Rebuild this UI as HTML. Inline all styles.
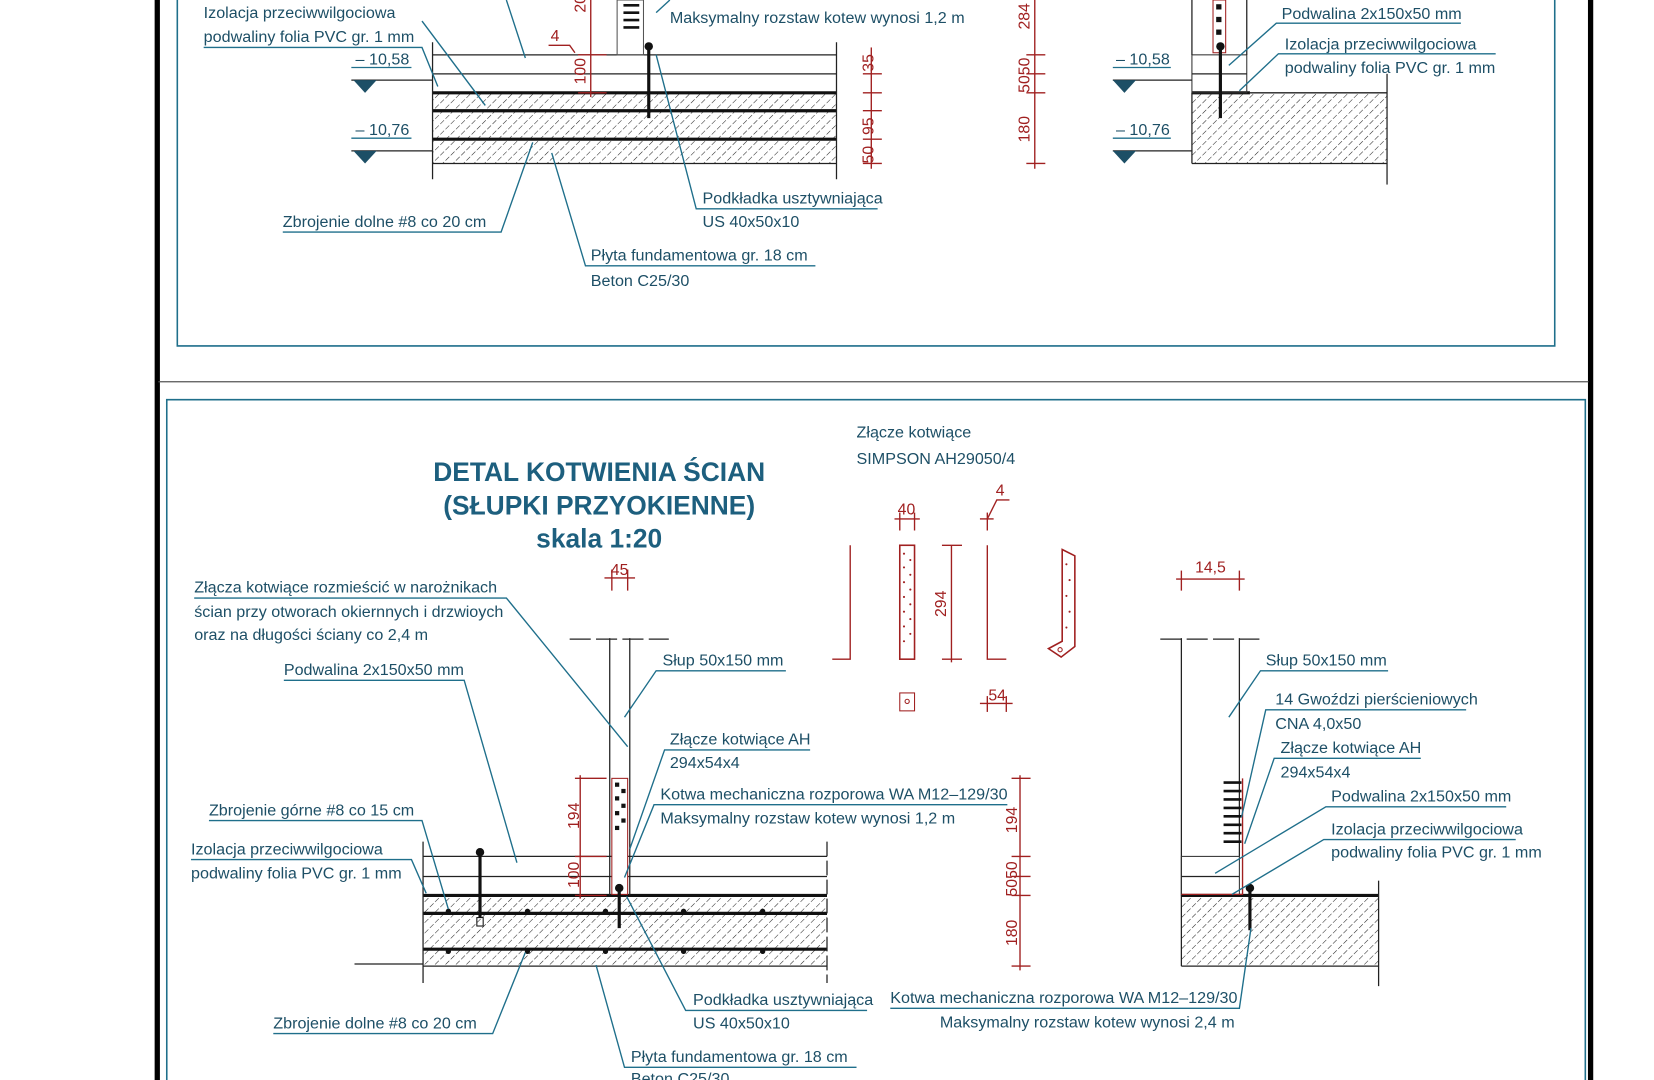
<!DOCTYPE html>
<html><head><meta charset="utf-8"><style>
html,body{margin:0;padding:0;background:#fff;}
svg{display:block;}
text{font-family:"Liberation Sans Narrow","Liberation Sans",sans-serif;font-size:15.3px;fill:#1d4f66;}
.t{font-family:"Liberation Sans",sans-serif;font-weight:bold;font-size:25px;fill:#1d5f7e;text-anchor:middle;}
.r{fill:#a02020;font-size:15px;}
.l{stroke:#1f6f8b;stroke-width:1.3;fill:none;}
.k{stroke:#222;stroke-width:1.2;fill:none;}
.kk{stroke:#111;stroke-width:3;fill:none;}
.rd{stroke:#a02020;stroke-width:1.3;fill:none;}
</style></head><body>
<svg width="1654" height="1080" viewBox="0 0 1568 1024" xmlns="http://www.w3.org/2000/svg">
<defs>
<pattern id="h" width="7" height="7" patternUnits="userSpaceOnUse" patternTransform="rotate(45)">
<line x1="0" y1="0" x2="0" y2="7" stroke="#222" stroke-width="1" stroke-dasharray="5 2"/></pattern>
</defs>
<!-- frame -->
<line x1="149" y1="0" x2="149" y2="1024" stroke="#000" stroke-width="5"/>
<line x1="1508" y1="0" x2="1508" y2="1024" stroke="#000" stroke-width="5"/>
<line x1="150" y1="362" x2="1506" y2="362" stroke="#555" stroke-width="1.2"/>
<polyline points="168,0 168,328 1474,328 1474,0" fill="none" stroke="#1f6f8b" stroke-width="1.5"/>
<polyline points="158,1024 158,379 1503,379 1503,1024" fill="none" stroke="#1f6f8b" stroke-width="1.5"/>

<!-- ===== TOP SECTION ===== -->
<rect x="410" y="88" width="383" height="67" fill="url(#h)"/>
<line class="k" x1="410" y1="52" x2="793" y2="52"/>
<line class="k" x1="410" y1="70" x2="793" y2="70"/>
<line class="kk" x1="410" y1="88" x2="793" y2="88"/>
<line class="kk" x1="410" y1="105" x2="793" y2="105"/>
<line class="kk" x1="410" y1="132" x2="793" y2="132"/>
<line class="k" x1="410" y1="155" x2="793" y2="155"/>
<line class="k" x1="410" y1="40" x2="410" y2="170"/>
<line class="k" x1="793" y1="40" x2="793" y2="170"/>
<rect x="585" y="0" width="25" height="52" fill="none" stroke="#555"/>
<line class="kk" x1="615" y1="42" x2="615" y2="112"/><circle cx="615" cy="44" r="4" fill="#111"/>
<g stroke="#111" stroke-width="2.5"><line x1="591" y1="5" x2="606" y2="5"/><line x1="591" y1="12" x2="606" y2="12"/><line x1="591" y1="19" x2="606" y2="19"/><line x1="591" y1="26" x2="606" y2="26"/></g>
<line class="rd" x1="560" y1="0" x2="560" y2="92"/><line class="rd" x1="548" y1="52" x2="575" y2="52"/><line class="rd" x1="548" y1="88" x2="575" y2="88"/>
<text class="r" transform="translate(555,80) rotate(-90)">100</text>
<text class="r" transform="translate(555,12) rotate(-90)">20</text>
<text class="r" x="522" y="39">4</text><polyline class="rd" points="520,43 540,43 545,50"/>
<polyline class="l" points="333,64 390,64"/><text x="337" y="61">– 10,58</text>
<line class="k" x1="333" y1="76" x2="410" y2="76"/><polygon points="335,76 357,76 346,88" fill="#1d4f66"/>
<polyline class="l" points="333,131 390,131"/><text x="337" y="128">– 10,76</text>
<line class="k" x1="333" y1="143" x2="410" y2="143"/><polygon points="335,143 357,143 346,155" fill="#1d4f66"/>
<text x="193" y="17">Izolacja przeciwwilgociowa</text>
<text x="193" y="40">podwaliny folia PVC gr. 1 mm</text>
<polyline class="l" points="193,45 400,45 415,82"/>
<line class="l" x1="400" y1="20" x2="460" y2="100"/>
<line class="l" x1="480" y1="0" x2="498" y2="55"/>
<text x="635" y="22">Maksymalny rozstaw kotew wynosi 1,2 m</text>
<line class="l" x1="635" y1="0" x2="622" y2="12"/>
<text x="666" y="193">Podkładka usztywniająca</text><text x="666" y="215">US 40x50x10</text>
<polyline class="l" points="832,198 660,198 622,52"/>
<text x="268" y="215">Zbrojenie dolne #8 co 20 cm</text>
<polyline class="l" points="268,220 475,220 505,135"/>
<text x="560" y="247">Płyta fundamentowa gr. 18 cm</text><text x="560" y="271">Beton C25/30</text>
<polyline class="l" points="773,252 555,252 523,145"/>
<line class="rd" x1="826" y1="45" x2="826" y2="160"/>
<g class="rd"><line x1="818" y1="70" x2="836" y2="70"/><line x1="818" y1="88" x2="836" y2="88"/><line x1="818" y1="105" x2="836" y2="105"/><line x1="818" y1="132" x2="836" y2="132"/><line x1="818" y1="155" x2="836" y2="155"/></g>
<text class="r" transform="translate(828,68) rotate(-90)">35</text>
<text class="r" transform="translate(828,128) rotate(-90)">95</text>
<text class="r" transform="translate(828,155) rotate(-90)">50</text>
<line class="rd" x1="981" y1="0" x2="981" y2="160"/>
<g class="rd"><line x1="973" y1="52" x2="991" y2="52"/><line x1="973" y1="70" x2="991" y2="70"/><line x1="973" y1="88" x2="991" y2="88"/><line x1="973" y1="155" x2="991" y2="155"/></g>
<text class="r" transform="translate(976,28) rotate(-90)">284</text>
<text class="r" transform="translate(976,88) rotate(-90)">5050</text>
<text class="r" transform="translate(976,135) rotate(-90)">180</text>
<rect x="1130" y="88" width="185" height="67" fill="url(#h)"/>
<line class="k" x1="1130" y1="155" x2="1315" y2="155"/>
<line class="kk" x1="1130" y1="88" x2="1185" y2="88"/><line class="k" x1="1185" y1="88" x2="1315" y2="88"/>
<rect x="1130" y="52" width="52" height="36" fill="none" stroke="#333"/><line class="k" x1="1130" y1="70" x2="1182" y2="70"/>
<line class="k" x1="1130" y1="0" x2="1130" y2="52"/><line class="k" x1="1182" y1="0" x2="1182" y2="52"/>
<line class="k" x1="1315" y1="70" x2="1315" y2="175"/><line class="k" x1="1130" y1="88" x2="1130" y2="155"/>
<rect x="1150" y="0" width="12" height="50" fill="none" stroke="#a02020"/>
<g fill="#111"><rect x="1153" y="4" width="5" height="5"/><rect x="1153" y="16" width="5" height="5"/><rect x="1153" y="28" width="5" height="5"/></g>
<line class="kk" x1="1157" y1="42" x2="1157" y2="112"/><circle cx="1157" cy="44" r="4" fill="#111"/>
<polyline class="l" points="1055,64 1110,64"/><text x="1058" y="61">– 10,58</text>
<line class="k" x1="1055" y1="76" x2="1130" y2="76"/><polygon points="1055,76 1077,76 1066,88" fill="#1d4f66"/>
<polyline class="l" points="1055,131 1110,131"/><text x="1058" y="128">– 10,76</text>
<line class="k" x1="1055" y1="143" x2="1130" y2="143"/><polygon points="1055,143 1077,143 1066,155" fill="#1d4f66"/>
<text x="1215" y="18">Podwalina 2x150x50 mm</text><polyline class="l" points="1385,22 1210,22 1165,62"/>
<text x="1218" y="47">Izolacja przeciwwilgociowa</text><text x="1218" y="69">podwaliny folia PVC gr. 1 mm</text>
<polyline class="l" points="1418,51 1212,51 1175,86"/>

<!-- ===== BOTTOM SECTION ===== -->
<text class="t" x="568" y="456">DETAL KOTWIENIA ŚCIAN</text>
<text class="t" x="568" y="488">(SŁUPKI PRZYOKIENNE)</text>
<text class="t" x="568" y="519">skala 1:20</text>
<text x="812" y="415">Złącze kotwiące</text><text x="812" y="440">SIMPSON AH29050/4</text>
<polyline class="rd" stroke-width="2" points="806,517 806,625 789,625"/>
<rect x="853" y="517" width="14" height="108" fill="none" stroke="#a02020" stroke-width="1.5"/>
<g fill="#a02020"><circle cx="857" cy="525" r="1"/><circle cx="863" cy="531" r="1"/><circle cx="857" cy="538" r="1"/><circle cx="863" cy="545" r="1"/><circle cx="857" cy="552" r="1"/><circle cx="863" cy="559" r="1"/><circle cx="857" cy="566" r="1"/><circle cx="863" cy="573" r="1"/><circle cx="857" cy="580" r="1"/><circle cx="863" cy="587" r="1"/><circle cx="857" cy="594" r="1"/><circle cx="863" cy="601" r="1"/><circle cx="857" cy="608" r="1"/></g>
<rect x="853" y="657" width="14" height="17" fill="none" stroke="#a02020"/><circle cx="860" cy="665" r="2" fill="none" stroke="#a02020"/>
<line class="rd" x1="848" y1="492" x2="872" y2="492"/><line class="rd" x1="853" y1="486" x2="853" y2="503"/><line class="rd" x1="867" y1="486" x2="867" y2="503"/><text class="r" x="851" y="488">40</text>
<line class="rd" x1="902" y1="517" x2="902" y2="628"/><line class="rd" x1="893" y1="517" x2="912" y2="517"/><line class="rd" x1="893" y1="625" x2="912" y2="625"/>
<text class="r" transform="translate(897,585) rotate(-90)">294</text>
<polyline class="rd" stroke-width="2" points="936,517 936,625 954,625"/>
<line class="rd" x1="929" y1="492" x2="942" y2="492"/><line class="rd" x1="936" y1="486" x2="936" y2="503"/><polyline class="rd" points="936,492 945,474 957,474"/><text class="r" x="944" y="470">4</text>
<line class="rd" x1="929" y1="667" x2="960" y2="667"/><line class="rd" x1="936" y1="660" x2="936" y2="675"/><line class="rd" x1="954" y1="660" x2="954" y2="675"/><text class="r" x="937" y="664">54</text>
<polygon points="1007,521 1019,527 1019,613 1006,623 994,615 1007,608" fill="none" stroke="#a02020" stroke-width="1.5"/>
<g fill="#a02020"><circle cx="1011" cy="535" r="1"/><circle cx="1014" cy="550" r="1"/><circle cx="1011" cy="565" r="1"/><circle cx="1014" cy="580" r="1"/><circle cx="1011" cy="595" r="1"/></g>
<circle cx="1005" cy="616" r="2" fill="none" stroke="#a02020"/>
<line class="rd" x1="573" y1="548" x2="602" y2="548"/><line class="rd" x1="580" y1="540" x2="580" y2="560"/><line class="rd" x1="595" y1="540" x2="595" y2="560"/><text class="r" x="579" y="545">45</text>
<rect x="401" y="849" width="383" height="67" fill="url(#h)"/>
<line class="k" x1="401" y1="812" x2="784" y2="812"/>
<line class="k" x1="401" y1="831" x2="784" y2="831"/>
<line class="kk" x1="401" y1="849" x2="784" y2="849"/>
<line class="kk" x1="401" y1="866" x2="784" y2="866"/>
<line class="kk" x1="401" y1="900" x2="784" y2="900"/>
<line class="k" x1="401" y1="916" x2="784" y2="916"/>
<line class="k" x1="401" y1="798" x2="401" y2="932"/>
<line class="k" x1="784" y1="798" x2="784" y2="932" stroke-dasharray="14 4"/>
<line class="k" x1="336" y1="914" x2="401" y2="914"/>
<g fill="#111"><circle cx="425" cy="864" r="2.5"/><circle cx="500" cy="864" r="2.5"/><circle cx="574" cy="864" r="2.5"/><circle cx="648" cy="864" r="2.5"/><circle cx="723" cy="864" r="2.5"/><circle cx="425" cy="902" r="2.5"/><circle cx="500" cy="902" r="2.5"/><circle cx="574" cy="902" r="2.5"/><circle cx="648" cy="902" r="2.5"/><circle cx="723" cy="902" r="2.5"/></g>
<line class="kk" x1="455" y1="808" x2="455" y2="870"/><circle cx="455" cy="808" r="4" fill="#111"/><rect x="452" y="870" width="6" height="8" fill="none" stroke="#111"/>
<line class="k" x1="578" y1="605" x2="578" y2="849"/><line class="k" x1="597" y1="605" x2="597" y2="849"/>
<line class="k" x1="540" y1="606" x2="634" y2="606" stroke-width="1.5" stroke-dasharray="20 5"/>
<rect x="580" y="738" width="15" height="110" fill="#fff" stroke="#a02020"/>
<g fill="#111"><rect x="583" y="742" width="4" height="4"/><rect x="589" y="748" width="4" height="4"/><rect x="583" y="755" width="4" height="4"/><rect x="589" y="762" width="4" height="4"/><rect x="583" y="769" width="4" height="4"/><rect x="589" y="776" width="4" height="4"/><rect x="583" y="783" width="4" height="4"/></g>
<line class="kk" x1="587" y1="840" x2="587" y2="880"/><circle cx="587" cy="842" r="4" fill="#111"/>
<line class="rd" x1="550" y1="735" x2="550" y2="852"/><line class="rd" x1="545" y1="738" x2="575" y2="738"/><line class="rd" x1="545" y1="812" x2="575" y2="812"/><line class="rd" x1="545" y1="849" x2="575" y2="849"/>
<text class="r" transform="translate(549,786) rotate(-90)">194</text>
<text class="r" transform="translate(549,842) rotate(-90)">100</text>
<text x="184" y="562">Złącza kotwiące rozmieścić w  narożnikach</text>
<text x="184" y="585">ścian przy otworach okiernnych i drzwioych</text>
<text x="184" y="607">oraz na długości ściany co 2,4 m</text>
<polyline class="l" points="184,567 480,567 595,708"/>
<text x="269" y="640">Podwalina 2x150x50 mm</text><polyline class="l" points="269,645 440,645 490,818"/>
<text x="628" y="631">Słup 50x150 mm</text><polyline class="l" points="745,636 622,636 592,680"/>
<text x="635" y="706">Złącze kotwiące AH</text><text x="635" y="728">294x54x4</text><polyline class="l" points="768,711 630,711 597,805"/>
<text x="626" y="758">Kotwa mechaniczna rozporowa WA M12–129/30</text><text x="626" y="781">Maksymalny rozstaw kotew wynosi 1,2 m</text>
<polyline class="l" points="955,763 620,763 592,832"/>
<text x="198" y="773">Zbrojenie górne #8 co 15 cm</text><polyline class="l" points="198,778 400,778 425,862"/>
<text x="181" y="810">Izolacja przeciwwilgociowa</text><text x="181" y="833">podwaliny folia PVC gr. 1 mm</text>
<polyline class="l" points="181,815 390,815 404,847"/>
<text x="259" y="975">Zbrojenie dolne #8 co 20 cm</text><polyline class="l" points="259,980 467,980 498,903"/>
<text x="657" y="953">Podkładka usztywniająca</text><text x="657" y="975">US 40x50x10</text><polyline class="l" points="822,958 650,958 594,850"/>
<text x="598" y="1007">Płyta fundamentowa gr. 18 cm</text><text x="598" y="1028">Beton C25/30</text><polyline class="l" points="812,1012 592,1012 565,915"/>
<line class="rd" x1="967" y1="735" x2="967" y2="920"/>
<g class="rd"><line x1="959" y1="738" x2="977" y2="738"/><line x1="959" y1="812" x2="977" y2="812"/><line x1="959" y1="831" x2="977" y2="831"/><line x1="959" y1="849" x2="977" y2="849"/><line x1="959" y1="916" x2="977" y2="916"/></g>
<text class="r" transform="translate(964,790) rotate(-90)">194</text>
<text class="r" transform="translate(964,850) rotate(-90)">5050</text>
<text class="r" transform="translate(964,897) rotate(-90)">180</text>
<line class="k" x1="1100" y1="606" x2="1194" y2="606" stroke-width="1.5" stroke-dasharray="20 5"/>
<line class="rd" x1="1115" y1="549" x2="1180" y2="549"/><line class="rd" x1="1120" y1="541" x2="1120" y2="560"/><line class="rd" x1="1175" y1="541" x2="1175" y2="560"/><text class="r" x="1133" y="543">14,5</text>
<line class="k" x1="1120" y1="605" x2="1120" y2="916"/><line class="k" x1="1175" y1="605" x2="1175" y2="812"/>
<rect x="1120" y="812" width="55" height="37" fill="none" stroke="#333"/><line class="k" x1="1120" y1="831" x2="1175" y2="831"/>
<rect x="1120" y="849" width="187" height="67" fill="url(#h)"/>
<line class="kk" x1="1120" y1="849" x2="1307" y2="849" stroke-width="2"/><line class="k" x1="1120" y1="916" x2="1307" y2="916"/>
<line class="k" x1="1307" y1="835" x2="1307" y2="935"/>
<polyline class="rd" stroke-width="2" points="1178,738 1178,848 1120,848"/>
<g stroke="#111" stroke-width="2.5"><line x1="1160" y1="742" x2="1177" y2="742"/><line x1="1160" y1="750" x2="1177" y2="750"/><line x1="1160" y1="758" x2="1177" y2="758"/><line x1="1160" y1="766" x2="1177" y2="766"/><line x1="1160" y1="774" x2="1177" y2="774"/><line x1="1160" y1="782" x2="1177" y2="782"/><line x1="1160" y1="790" x2="1177" y2="790"/><line x1="1160" y1="798" x2="1177" y2="798"/></g>
<line class="kk" x1="1185" y1="840" x2="1185" y2="882"/><circle cx="1185" cy="842" r="4" fill="#111"/>
<text x="1200" y="631">Słup 50x150 mm</text><polyline class="l" points="1316,636 1195,636 1165,680"/>
<text x="1209" y="668">14 Gwoździ pierścieniowych</text><text x="1209" y="691">CNA 4,0x50</text><polyline class="l" points="1390,673 1200,673 1177,775"/>
<text x="1214" y="714">Złącze kotwiące AH</text><text x="1214" y="737">294x54x4</text><polyline class="l" points="1347,719 1208,719 1180,800"/>
<text x="1262" y="760">Podwalina 2x150x50 mm</text><polyline class="l" points="1428,765 1257,765 1152,828"/>
<text x="1262" y="791">Izolacja przeciwwilgociowa</text><text x="1262" y="813">podwaliny folia PVC gr. 1 mm</text>
<polyline class="l" points="1437,796 1255,796 1168,848"/>
<text x="844" y="951">Kotwa mechaniczna rozporowa WA M12–129/30</text><text x="891" y="974">Maksymalny rozstaw kotew wynosi 2,4 m</text>
<polyline class="l" points="844,956 1175,956 1186,880"/>
</svg>
</body></html>
